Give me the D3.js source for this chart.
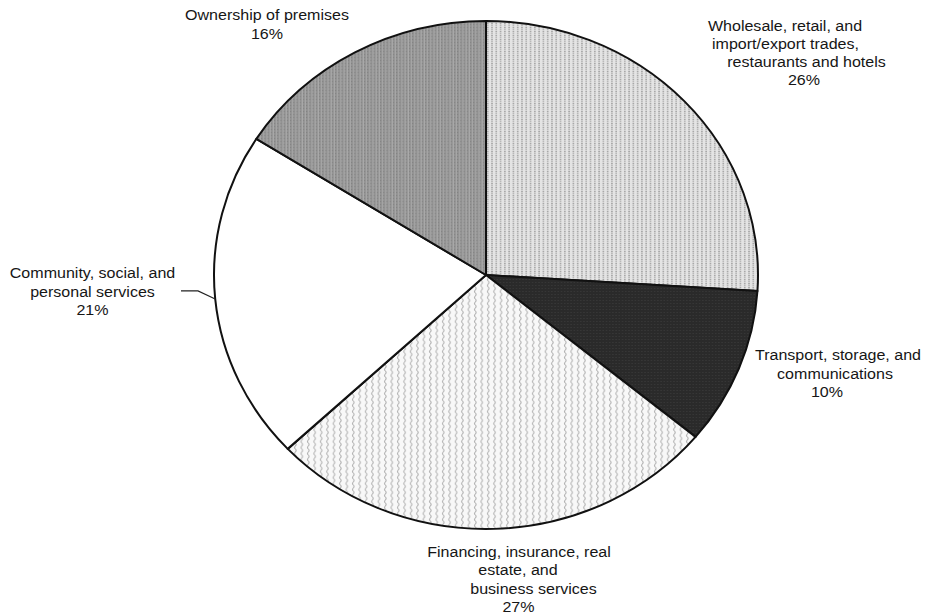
<!DOCTYPE html>
<html>
<head>
<meta charset="utf-8">
<script src="https://cdn.jsdelivr.net/npm/d3@7/dist/d3.min.js"></script>
<style>
  html, body { margin: 0; padding: 0; background: #fff; }
  svg { display: block; }
  text { font-family: "Liberation Sans", Arial, Helvetica, sans-serif; font-size: 15px; fill: #161616; }
</style>
</head>
<body>
<svg id="chart" width="930" height="616"></svg>
<script>
// Sector shares of output, clockwise from 12 o'clock
const categories = [
  "Wholesale, retail, and import/export trades, restaurants and hotels",
  "Transport, storage, and communications",
  "Financing, insurance, real estate, and business services",
  "Community, social, and personal services",
  "Ownership of premises"
];
const labelLines = [
  ["Wholesale, retail, and", "import/export trades,", "restaurants and hotels"],
  ["Transport, storage, and", "communications"],
  ["Financing, insurance, real", "estate, and", "business services"],
  ["Community, social, and", "personal services"],
  ["Ownership of premises"]
];
const shares = [26, 10, 27, 21, 16];
const fillIds = ["fill-trade", "fill-transport", "fill-finance", "fill-community", "fill-premises"];

const svg = d3.select("#chart");

// ---- hatch / screen fills ----
const defs = svg.append("defs");

// light dotted vertical screen
const pTrade = defs.append("pattern").attr("id", "fill-trade")
  .attr("patternUnits", "userSpaceOnUse").attr("width", 4).attr("height", 4);
pTrade.append("rect").attr("width", 4).attr("height", 4).attr("fill", "#e4e4e4");
pTrade.append("rect").attr("x", 1).attr("y", 0).attr("width", 1.2).attr("height", 1.4).attr("fill", "#959595");
pTrade.append("rect").attr("x", 1).attr("y", 2).attr("width", 1.2).attr("height", 1.4).attr("fill", "#ababab");

// near-black screen
const pTrans = defs.append("pattern").attr("id", "fill-transport")
  .attr("patternUnits", "userSpaceOnUse").attr("width", 3).attr("height", 3);
pTrans.append("rect").attr("width", 3).attr("height", 3).attr("fill", "#2a2a2a");
pTrans.append("rect").attr("x", 1).attr("y", 1).attr("width", 1).attr("height", 1).attr("fill", "#3c3c3c");

// faint wavy vertical lines
const pFin = defs.append("pattern").attr("id", "fill-finance")
  .attr("patternUnits", "userSpaceOnUse").attr("width", 6).attr("height", 6);
pFin.append("rect").attr("width", 6).attr("height", 6).attr("fill", "#f8f8f8");
pFin.append("path").attr("d", "M2,0 Q3.4,1.5 2,3 Q0.6,4.5 2,6")
  .attr("fill", "none").attr("stroke", "#b2b2b2").attr("stroke-width", 1);

// plain white
const pCom = defs.append("pattern").attr("id", "fill-community")
  .attr("patternUnits", "userSpaceOnUse").attr("width", 4).attr("height", 4);
pCom.append("rect").attr("width", 4).attr("height", 4).attr("fill", "#ffffff");

// medium grey screen with light vertical streaks
const pPrem = defs.append("pattern").attr("id", "fill-premises")
  .attr("patternUnits", "userSpaceOnUse").attr("width", 3).attr("height", 3);
pPrem.append("rect").attr("width", 3).attr("height", 3).attr("fill", "#929292");
pPrem.append("rect").attr("x", 2).attr("y", 0).attr("width", 0.9).attr("height", 3).attr("fill", "#adadad");
pPrem.append("rect").attr("x", 0).attr("y", 1).attr("width", 1).attr("height", 1).attr("fill", "#838383");

// ---- pie (slightly wider than tall) ----
const cx = 486, cy = 275, R = 254, stretch = 272 / 254;

const pie = d3.pie().sort(null).value(d => d)(shares);
const arc = d3.arc().innerRadius(0).outerRadius(R);

const g = svg.append("g").attr("transform", `translate(${cx},${cy}) scale(${stretch},1)`);

g.selectAll("path.slice")
  .data(pie)
  .join("path")
  .attr("class", "slice")
  .attr("d", arc)
  .attr("fill", (d, i) => `url(#${fillIds[i]})`)
  .attr("stroke", "#111")
  .attr("stroke-width", 2)
  .attr("stroke-linejoin", "round")
  .attr("vector-effect", "non-scaling-stroke");

// point on the rim at a given pie angle (radians, clockwise from top)
function rim(a) {
  return [cx + Math.sin(a) * R * stretch, cy - Math.cos(a) * R];
}

// ---- labels ----
// per-label line centres and baselines
const layout = [
  { x: [785, 785.5, 806.5], px: 804, y0: 31, dy: 18 },
  { x: [838, 835], px: 827, y0: 360, dy: 18.5 },
  { x: [519, 518, 533.5], px: 518.5, y0: 557, dy: 18.3 },
  { x: [92.5, 92.5], px: 92.5, y0: 278, dy: 18.5 },
  { x: [267], px: 267, y0: 20, dy: 18.5 }
];

const labels = svg.append("g");
labelLines.forEach((lines, i) => {
  const L = layout[i];
  const rows = lines.map((t, k) => ({ t, x: L.x[k], y: L.y0 + k * L.dy }));
  rows.push({ t: shares[i] + "%", x: L.px, y: L.y0 + lines.length * L.dy });
  rows.forEach(r => {
    labels.append("text")
      .attr("transform", `translate(${r.x},${r.y}) scale(1.07,1)`)
      .attr("text-anchor", "middle")
      .text(r.t);
  });
});

// leader from the community label to its slice
const com = pie[3];
const leadAngle = com.startAngle + (com.endAngle - com.startAngle) * 0.5;
const edge = rim(leadAngle);
svg.append("path")
  .attr("d", d3.line()([[181, edge[1] - 8], [198, edge[1] - 8], edge]))
  .attr("fill", "none")
  .attr("stroke", "#222")
  .attr("stroke-width", 1.1);
</script>
</body>
</html>
